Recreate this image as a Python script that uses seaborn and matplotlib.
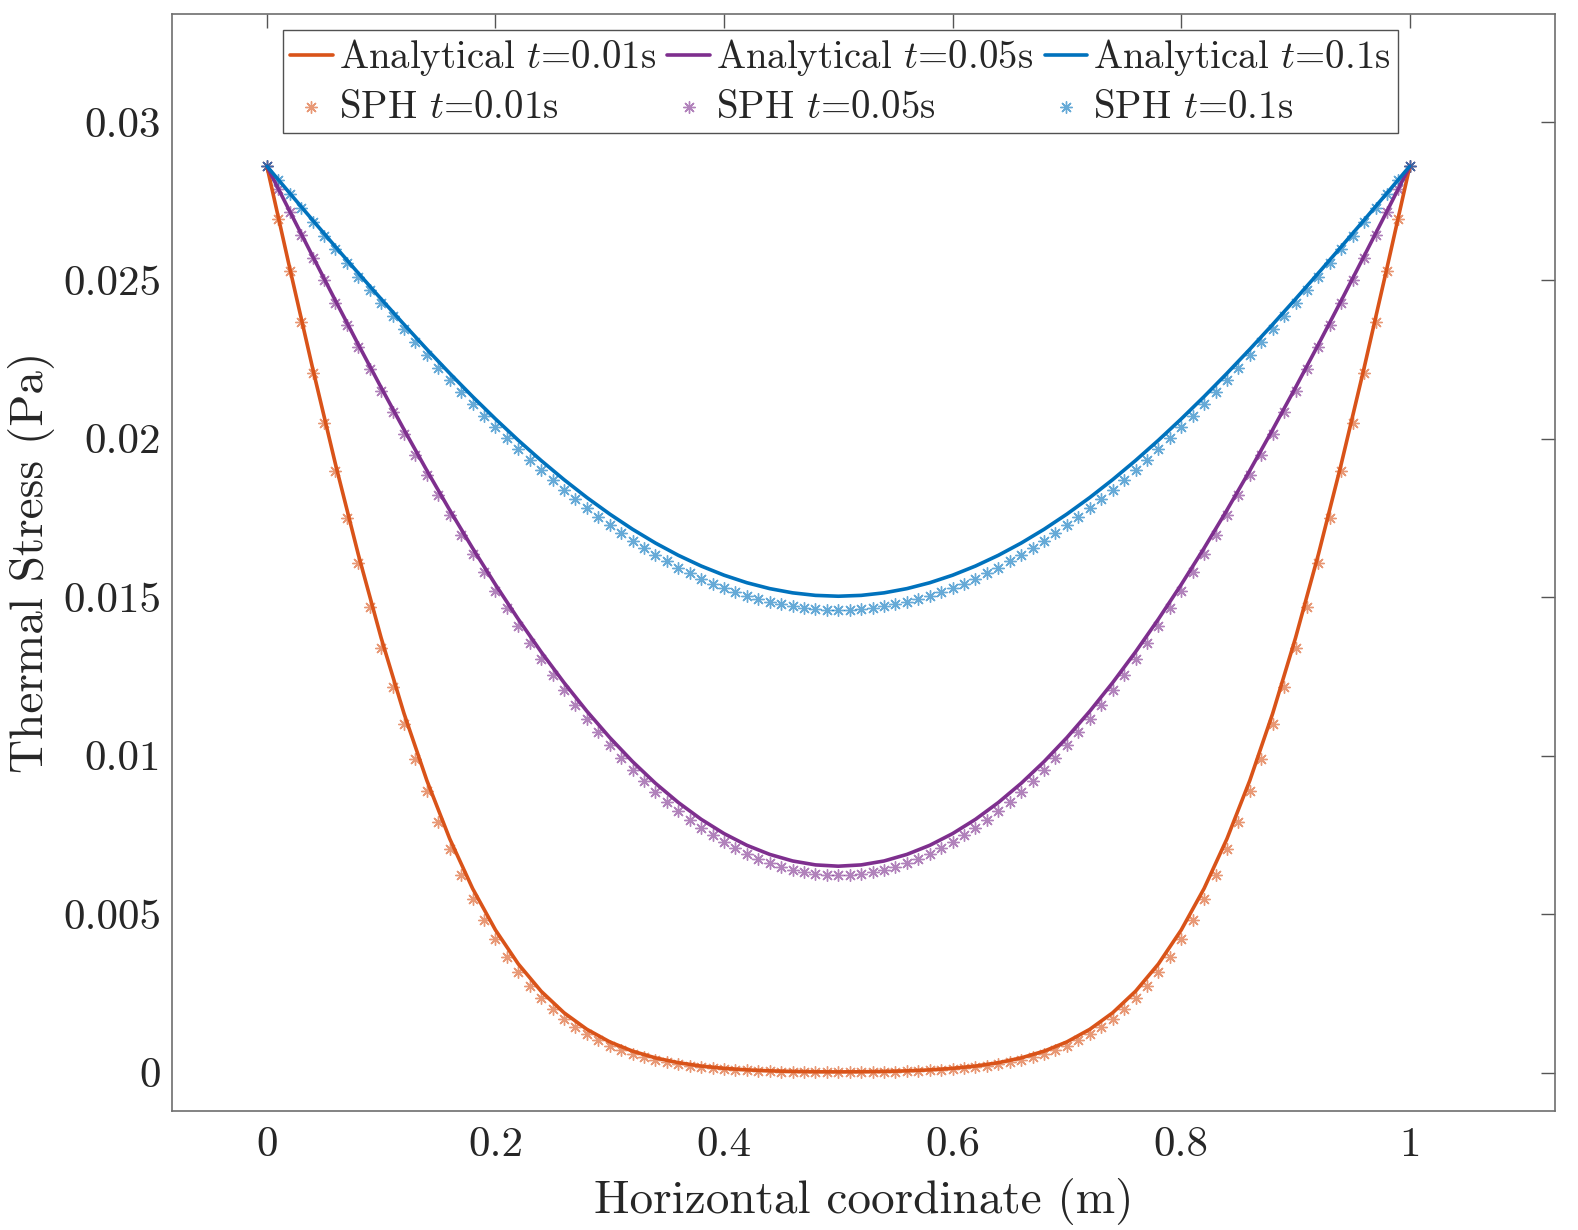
import numpy as np
import matplotlib
matplotlib.use('Agg')
import matplotlib.pyplot as plt
import seaborn as sns
from matplotlib.ticker import FixedLocator, FuncFormatter

# analytical solution, x step 0.02
x_line = np.linspace(0, 1, 51)
ana_001 = [0.028600, 0.025384, 0.022231, 0.019201, 0.016348, 0.013714, 0.011330, 0.009215, 0.007376, 0.005808,
           0.004499, 0.003426, 0.002565, 0.001887, 0.001365, 0.000969, 0.000676, 0.000464, 0.000312, 0.000206,
           0.000134, 0.000086, 0.000055, 0.000037, 0.000026, 0.000023, 0.000026, 0.000037, 0.000055, 0.000086,
           0.000134, 0.000206, 0.000312, 0.000464, 0.000676, 0.000969, 0.001365, 0.001887, 0.002565, 0.003426,
           0.004499, 0.005808, 0.007376, 0.009215, 0.011330, 0.013714, 0.016348, 0.019201, 0.022231, 0.025384,
           0.028600]
ana_005 = [0.028600, 0.027177, 0.025761, 0.024357, 0.022973, 0.021614, 0.020287, 0.018996, 0.017747, 0.016546,
           0.015397, 0.014305, 0.013272, 0.012303, 0.011402, 0.010571, 0.009812, 0.009128, 0.008521, 0.007991,
           0.007541, 0.007171, 0.006884, 0.006677, 0.006553, 0.006512, 0.006553, 0.006677, 0.006884, 0.007171,
           0.007541, 0.007991, 0.008521, 0.009128, 0.009812, 0.010571, 0.011402, 0.012303, 0.013272, 0.014305,
           0.015397, 0.016546, 0.017747, 0.018996, 0.020287, 0.021614, 0.022973, 0.024357, 0.025761, 0.027177,
           0.028600]
ana_01 = [0.028600, 0.027748, 0.026899, 0.026057, 0.025225, 0.024407, 0.023605, 0.022822, 0.022063, 0.021329,
          0.020624, 0.019950, 0.019311, 0.018708, 0.018144, 0.017622, 0.017142, 0.016708, 0.016321, 0.015983,
          0.015694, 0.015456, 0.015270, 0.015137, 0.015057, 0.015030, 0.015057, 0.015137, 0.015270, 0.015456,
          0.015694, 0.015983, 0.016321, 0.016708, 0.017142, 0.017622, 0.018144, 0.018708, 0.019311, 0.019950,
          0.020624, 0.021329, 0.022063, 0.022822, 0.023605, 0.024407, 0.025225, 0.026057, 0.026899, 0.027748,
          0.028600]

# SPH particles, x step 0.01
x_sph = np.linspace(0, 1, 101)
sph_001 = [0.028600, 0.026947, 0.025302, 0.023674, 0.022072, 0.020503, 0.018978, 0.017498, 0.016072, 0.014704,
           0.013400, 0.012162, 0.010994, 0.009897, 0.008872, 0.007921, 0.007041, 0.006232, 0.005492, 0.004819,
           0.004209, 0.003661, 0.003169, 0.002732, 0.002344, 0.002001, 0.001701, 0.001440, 0.001213, 0.001016,
           0.000848, 0.000704, 0.000582, 0.000479, 0.000392, 0.000319, 0.000259, 0.000209, 0.000168, 0.000134,
           0.000106, 0.000084, 0.000067, 0.000052, 0.000042, 0.000033, 0.000027, 0.000022, 0.000019, 0.000017,
           0.000017,
           0.000017, 0.000019, 0.000022, 0.000027, 0.000033, 0.000042, 0.000052, 0.000067, 0.000084, 0.000106,
           0.000134, 0.000168, 0.000209, 0.000259, 0.000319, 0.000392, 0.000479, 0.000582, 0.000704, 0.000848,
           0.001016, 0.001213, 0.001440, 0.001701, 0.002001, 0.002344, 0.002732, 0.003169, 0.003661, 0.004209,
           0.004819, 0.005492, 0.006232, 0.007041, 0.007921, 0.008872, 0.009897, 0.010994, 0.012162, 0.013400,
           0.014704, 0.016072, 0.017498, 0.018978, 0.020503, 0.022072, 0.023674, 0.025302, 0.026947, 0.028600]
sph_005 = [0.028600, 0.027877, 0.027155, 0.026435, 0.025717, 0.025003, 0.024292, 0.023587, 0.022887, 0.022194,
           0.021509, 0.020830, 0.020161, 0.019501, 0.018852, 0.018214, 0.017586, 0.016971, 0.016369, 0.015780,
           0.015205, 0.014644, 0.014099, 0.013569, 0.013054, 0.012556, 0.012074, 0.011610, 0.011163, 0.010734,
           0.010324, 0.009931, 0.009557, 0.009203, 0.008867, 0.008551, 0.008254, 0.007977, 0.007720, 0.007483,
           0.007267, 0.007071, 0.006895, 0.006739, 0.006604, 0.006490, 0.006397, 0.006324, 0.006271, 0.006240,
           0.006230,
           0.006240, 0.006271, 0.006324, 0.006397, 0.006490, 0.006604, 0.006739, 0.006895, 0.007071, 0.007267,
           0.007483, 0.007720, 0.007977, 0.008254, 0.008551, 0.008867, 0.009203, 0.009557, 0.009931, 0.010324,
           0.010734, 0.011163, 0.011610, 0.012074, 0.012556, 0.013054, 0.013569, 0.014099, 0.014644, 0.015205,
           0.015780, 0.016369, 0.016971, 0.017586, 0.018214, 0.018852, 0.019501, 0.020161, 0.020830, 0.021509,
           0.022194, 0.022887, 0.023587, 0.024292, 0.025003, 0.025717, 0.026435, 0.027155, 0.027877, 0.028600]
sph_01 = [0.028600, 0.028160, 0.027721, 0.027282, 0.026845, 0.026410, 0.025977, 0.025546, 0.025118, 0.024694,
          0.024274, 0.023858, 0.023446, 0.023040, 0.022639, 0.022244, 0.021855, 0.021473, 0.021098, 0.020731,
          0.020371, 0.020019, 0.019676, 0.019342, 0.019016, 0.018700, 0.018394, 0.018098, 0.017813, 0.017538,
          0.017274, 0.017021, 0.016779, 0.016550, 0.016332, 0.016126, 0.015932, 0.015751, 0.015583, 0.015428,
          0.015285, 0.015156, 0.015040, 0.014937, 0.014848, 0.014772, 0.014710, 0.014662, 0.014628, 0.014607,
          0.014600,
          0.014607, 0.014628, 0.014662, 0.014710, 0.014772, 0.014848, 0.014937, 0.015040, 0.015156, 0.015285,
          0.015428, 0.015583, 0.015751, 0.015932, 0.016126, 0.016332, 0.016550, 0.016779, 0.017021, 0.017274,
          0.017538, 0.017813, 0.018098, 0.018394, 0.018700, 0.019016, 0.019342, 0.019676, 0.020019, 0.020371,
          0.020731, 0.021098, 0.021473, 0.021855, 0.022244, 0.022639, 0.023040, 0.023446, 0.023858, 0.024274,
          0.024694, 0.025118, 0.025546, 0.025977, 0.026410, 0.026845, 0.027282, 0.027721, 0.028160, 0.028600]

times = ['0.01', '0.05', '0.1']
colors = ['#D95319', '#7E2F8E', '#0072BD']
x_ticks = [0, 0.2, 0.4, 0.6, 0.8, 1]
y_ticks = [0, 0.005, 0.01, 0.015, 0.02, 0.025, 0.03]

sns.set_theme(style='white')
plt.rcParams['font.family'] = 'serif'
plt.rcParams['font.serif'] = ['cmr10']
plt.rcParams['mathtext.fontset'] = 'cm'
plt.rcParams['axes.formatter.use_mathtext'] = True
plt.rcParams['axes.unicode_minus'] = False

fig = plt.figure(figsize=(15.78, 12.30), dpi=100)
ax = fig.add_axes([0.109, 0.0968, 0.8764, 0.8918])

star = (8, 2, 0)
for t, c, ya, ys in zip(times, colors, [ana_001, ana_005, ana_01], [sph_001, sph_005, sph_01]):
    sns.scatterplot(x=x_sph, y=ys, ax=ax, marker=star, s=70, color=c, alpha=0.6,
                    linewidth=1.0, label=f'SPH $t$=${t}$s', zorder=2)
    sns.lineplot(x=x_line, y=ya, ax=ax, color=c, linewidth=2.6, label=f'Analytical $t$=${t}$s',
                 estimator=None, sort=False, zorder=3)

ax.set_xlim(-0.083, 1.127)
ax.set_ylim(-0.00121, 0.0334)
ax.xaxis.set_major_locator(FixedLocator(x_ticks))
ax.yaxis.set_major_locator(FixedLocator(y_ticks))
fmt = FuncFormatter(lambda v, p: f'{v:g}')
ax.xaxis.set_major_formatter(fmt)
ax.yaxis.set_major_formatter(fmt)
ax.tick_params(direction='in', length=10, width=1, top=True, right=True,
               labelsize=31, color='#555555', labelcolor='#262626')
ax.tick_params(axis='x', pad=11)
ax.tick_params(axis='y', pad=8)
for sp in ax.spines.values():
    sp.set_color('#6e6e6e')
    sp.set_linewidth(1.2)

ax.set_xlabel('Horizontal coordinate (m)', fontsize=34, color='#262626', labelpad=10)
ax.set_ylabel('Thermal Stress (Pa)', fontsize=34, color='#262626', labelpad=6)

handles, labels = ax.get_legend_handles_labels()
lookup = dict(zip(labels, handles))
order = []
for t in times:
    order += [f'Analytical $t$=${t}$s', f'SPH $t$=${t}$s']
leg = ax.legend([lookup[l] for l in order], order, ncol=3, loc='upper center',
                bbox_to_anchor=(0.4833, 0.9853), borderaxespad=0, frameon=True, fancybox=False,
                fontsize=28, handlelength=1.1, handletextpad=0.15, columnspacing=0.3,
                borderpad=0.18, labelspacing=0.3, scatterpoints=1)
leg.get_frame().set_edgecolor('#262626')
leg.get_frame().set_linewidth(1.0)

fig.savefig('out.png', dpi=100)
